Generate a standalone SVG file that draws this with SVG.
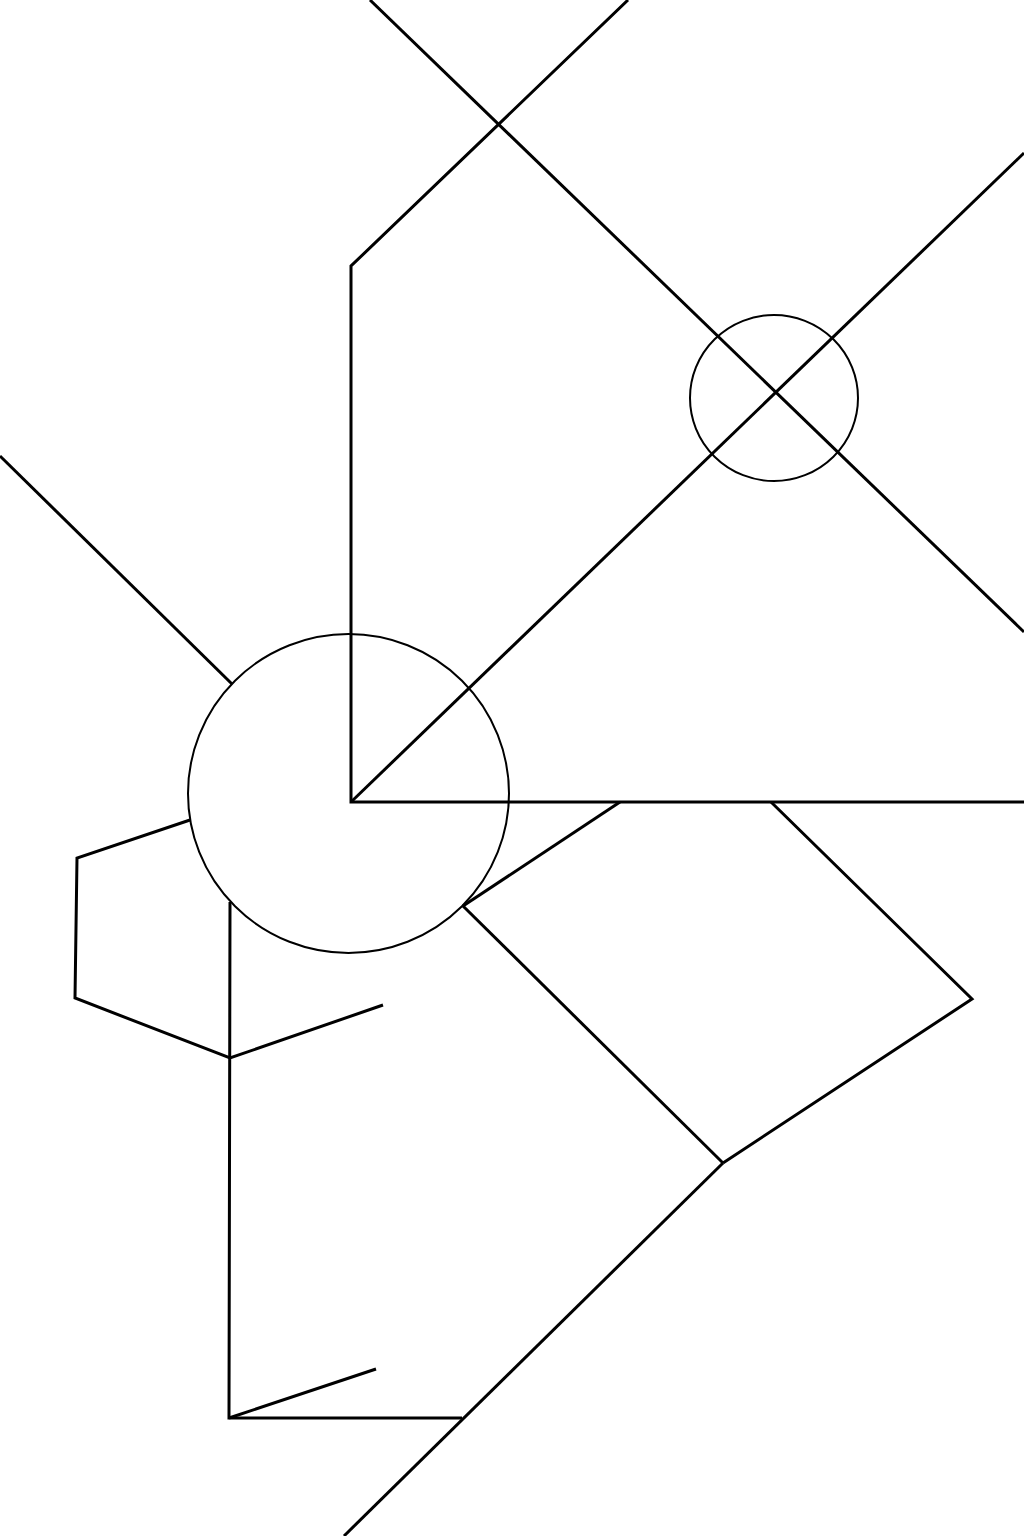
<svg xmlns="http://www.w3.org/2000/svg" width="1024" height="1536" viewBox="0 0 1024 1536">
<style>
.l{fill:none;stroke:#000;stroke-width:3;stroke-linejoin:miter;stroke-linecap:butt}
.c{fill:none;stroke:#000;stroke-width:2}
</style>
<rect width="1024" height="1536" fill="#fff"/>
<g id="lines">
<line class="l" x1="370" y1="0" x2="1024" y2="632"/>
<polyline class="l" points="628,0 351,266 351,802 1024,802"/>
<line class="l" x1="1024" y1="153" x2="351" y2="802"/>
<line class="l" x1="0" y1="456" x2="232" y2="684"/>
<line class="l" x1="620" y1="802" x2="463" y2="906"/>
<polyline class="l" points="771,802 972,999 723,1163"/>
<line class="l" x1="463" y1="906" x2="723" y2="1163"/>
<line class="l" x1="723" y1="1163" x2="344" y2="1536"/>
<polyline class="l" points="190,820 77,858 75,998 230,1058 383,1005"/>
<polyline class="l" points="230,902 229,1418 462,1418"/>
<line class="l" x1="229" y1="1418" x2="376" y2="1369"/>
</g>
<g id="circles">
<ellipse class="c" cx="774" cy="398" rx="84" ry="83"/>
<ellipse class="c" cx="348.5" cy="793.5" rx="160.5" ry="159.5"/>
</g>
</svg>
